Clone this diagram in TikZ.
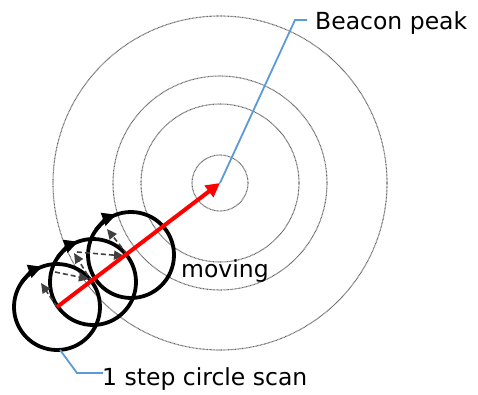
\documentclass[tikz,border=0pt]{standalone}
\usepackage{fontspec}
\setmainfont{DejaVu Sans}
\usetikzlibrary{arrows.meta,calc}
\definecolor{leadblue}{RGB}{91,155,213}
\begin{document}
\begin{tikzpicture}[x=1pt,y=1pt,
  ring/.style={draw=black!60, line width=1.1pt, dash pattern=on 0.8pt off 0.6pt},
  scan/.style={draw=black, line width=3.8pt},
  scantip/.style={draw=black, line width=3.8pt, -{Triangle[length=14pt,width=13pt]}},
  lead/.style={draw=leadblue, line width=1.8pt},
  dsh/.style={draw=black!75, line width=1.6pt, dash pattern=on 5pt off 3pt, -{Triangle[length=10pt,width=9pt]}},
  lbl/.style={font=\fontsize{23.5}{26}\selectfont, inner sep=0pt, anchor=base west}]
\useasboundingbox (0,0) rectangle (478,394);
% key points
\coordinate (peak) at (220,211);
\coordinate (C1) at (57,87);
\coordinate (C2) at (93,112);
\coordinate (C3) at (131,139);
% concentric dotted rings
\foreach \r in {28,79,107,167} \draw[ring] (peak) circle[radius=\r];
% scan circles
\foreach \c in {C1,C2,C3} {
  \draw[scan] (\c) circle[radius=43];
  \draw[scantip] (\c) ++(145:43) arc[start angle=145, end angle=110, radius=43];
}
% dashed moves
\coordinate (a1s) at (57,87);  \coordinate (a1e) at (41,111);
\coordinate (h1s) at (55,122); \coordinate (h1e) at (89,115);
\coordinate (a2s) at (92,112); \coordinate (a2e) at (74,141);
\coordinate (h2s) at (77,142); \coordinate (h2e) at (124,138);
\coordinate (a3s) at (127,140); \coordinate (a3e) at (107,165);
\draw[dsh] (a1s) -- (a1e);
\draw[dsh] (h1s) -- (h1e);
\draw[dsh] (a2s) -- (a2e);
\draw[dsh] (h2s) -- (h2e);
\draw[dsh] (a3s) -- (a3e);
% red moving arrow
\draw[red, line width=4pt, -{Triangle[length=14pt,width=14pt]}] (C1) -- (peak);
% labels
\node[lbl] (bp) at (315,364) {Beacon peak};
\node[lbl] (mv) at (181,117) {moving};
\node[lbl] (sc) at (102,9) {1 step circle scan};
% leaders
\coordinate (b1) at (295,374);
\coordinate (b2) at (307,374);
\draw[lead] (peak) -- (b1) -- (b2);
\coordinate (s1) at (77,21);
\coordinate (s2) at (103,21);
\coordinate (s0) at ($(C1)+(-86:43)$);
\draw[lead] (s0) -- (s1) -- (s2);
\end{tikzpicture}
\end{document}
